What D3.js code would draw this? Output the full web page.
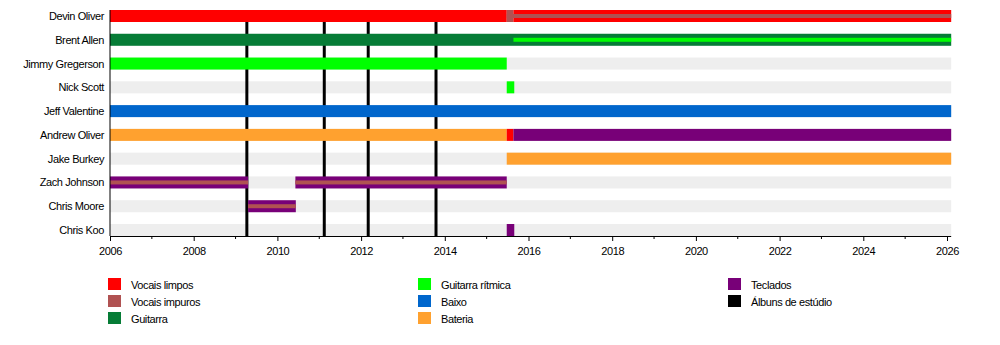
<!DOCTYPE html>
<html>
<head>
<meta charset="utf-8">
<script src="https://cdn.jsdelivr.net/npm/d3@7"></script>
<style>
  html, body { margin: 0; padding: 0; background: #fff; }
  svg text { font-family: "Liberation Sans", Arial, sans-serif; font-size: 11px; letter-spacing: -0.4px; fill: #000; }
</style>
</head>
<body>
<svg id="chart" width="1000" height="345"></svg>
<script>
// Band line-up timeline, years as decimal dates
const START = 2006;
const END = 2026.1;
const SPLIT = 2015.48;      // line-up change
const SPLIT2 = 2015.64;

const members = ["Devin Oliver", "Brent Allen", "Jimmy Gregerson", "Nick Scott", "Jeff Valentine",
                 "Andrew Oliver", "Jake Burkey", "Zach Johnson", "Chris Moore", "Chris Koo"];

const roles = ["Vocais limpos", "Vocais impuros", "Guitarra", "Guitarra rítmica", "Baixo", "Bateria", "Teclados"];
const roleColors = ["#ff0000", "#b05252", "#067c36", "#00ff00", "#0066cc", "#ffa12f", "#780078"];

// full-height bars: [member, role, from, to]
const bars = [
  ["Devin Oliver", "Vocais limpos", START, SPLIT],
  ["Devin Oliver", "Vocais impuros", SPLIT, SPLIT2],
  ["Devin Oliver", "Vocais limpos", SPLIT2, END],
  ["Brent Allen", "Guitarra", START, END],
  ["Jimmy Gregerson", "Guitarra rítmica", START, SPLIT],
  ["Nick Scott", "Guitarra rítmica", SPLIT, 2015.66],
  ["Jeff Valentine", "Baixo", START, END],
  ["Andrew Oliver", "Bateria", START, SPLIT],
  ["Andrew Oliver", "Vocais limpos", SPLIT, SPLIT2],
  ["Andrew Oliver", "Teclados", SPLIT2, END],
  ["Jake Burkey", "Bateria", SPLIT, END],
  ["Zach Johnson", "Teclados", START, 2009.30],
  ["Zach Johnson", "Teclados", 2010.43, SPLIT],
  ["Chris Moore", "Teclados", 2009.30, 2010.44],
  ["Chris Koo", "Teclados", SPLIT, 2015.66]
];

// thin secondary-role stripes drawn inside the bars: [member, role, from, to]
const stripes = [
  ["Devin Oliver", "Vocais impuros", SPLIT, END],
  ["Brent Allen", "Guitarra rítmica", SPLIT2, END],
  ["Zach Johnson", "Vocais impuros", START, 2009.30],
  ["Zach Johnson", "Vocais impuros", 2010.43, SPLIT],
  ["Chris Moore", "Vocais impuros", 2009.30, 2010.44]
];

const albums = [2009.27, 2011.12, 2012.17, 2013.79];
const albumLabel = "Álbuns de estúdio";

const majorTicks = d3.range(2006, 2027, 2);
const minorTicks = d3.range(2007, 2026, 2);

// legend columns
const legendColumns = [
  ["Vocais limpos", "Vocais impuros", "Guitarra"],
  ["Guitarra rítmica", "Baixo", "Bateria"],
  ["Teclados", albumLabel]
];

const svg = d3.select("#chart");
const color = d3.scaleOrdinal().domain(roles).range(roleColors);
const x = d3.scaleLinear().domain([2006, 2026]).range([110, 947]);
const y = d3.scalePoint().domain(members).range([16, 230]);
const barH = 12, stripeH = 4;
const axisY = 236;

// grey background rows
svg.append("g").selectAll("rect").data(members).join("rect")
  .attr("x", x(START)).attr("width", x(END) - x(START))
  .attr("y", d => y(d) - barH / 2).attr("height", barH)
  .attr("fill", "#eeeeee");

// studio album markers
svg.append("g").selectAll("line").data(albums).join("line")
  .attr("x1", d => x(d)).attr("x2", d => x(d))
  .attr("y1", 10).attr("y2", axisY)
  .attr("stroke", "#000").attr("stroke-width", 3);

// role bars
svg.append("g").selectAll("rect").data(bars).join("rect")
  .attr("x", d => x(d[2])).attr("width", d => x(d[3]) - x(d[2]))
  .attr("y", d => y(d[0]) - barH / 2).attr("height", barH)
  .attr("fill", d => color(d[1]));

svg.append("g").selectAll("rect").data(stripes).join("rect")
  .attr("x", d => x(d[2])).attr("width", d => x(d[3]) - x(d[2]))
  .attr("y", d => y(d[0]) - stripeH / 2).attr("height", stripeH)
  .attr("fill", d => color(d[1]));

// member names
svg.append("g").selectAll("text").data(members).join("text")
  .attr("x", 104).attr("y", d => y(d))
  .attr("text-anchor", "end").attr("dominant-baseline", "central")
  .text(d => d);

// left edge
svg.append("line").attr("x1", x(START)).attr("x2", x(START))
  .attr("y1", 10).attr("y2", axisY).attr("stroke", "#000").attr("stroke-width", 1);

// time axis
const axis = svg.append("g").attr("transform", `translate(0,${axisY})`)
  .call(d3.axisBottom(x).tickValues(majorTicks).tickFormat(d3.format("d")).tickSizeInner(5).tickSizeOuter(0));
axis.select(".domain").attr("d", `M${x(START)},0.5H${x(END)}`).attr("stroke", "#000");
axis.selectAll(".tick line").attr("stroke", "#000");
axis.selectAll(".tick text").attr("dy", "0.9em").attr("y", 9)
  .style("font-family", "'Liberation Sans', Arial, sans-serif").style("font-size", "11px");
axis.selectAll(".minor").data(minorTicks).join("line").attr("class", "minor")
  .attr("x1", d => x(d)).attr("x2", d => x(d)).attr("y1", 0).attr("y2", 3)
  .attr("stroke", "#000");

// legend
const legendX = [108, 418, 728];
const legendY = d3.scalePoint().domain([0, 1, 2]).range([278, 312]);
legendColumns.forEach((col, ci) => {
  const g = svg.append("g");
  col.forEach((name, ri) => {
    const fill = name === albumLabel ? "#000" : color(name);
    g.append("rect").attr("x", legendX[ci]).attr("y", legendY(ri))
      .attr("width", 13).attr("height", 12).attr("fill", fill);
    g.append("text").attr("x", legendX[ci] + 23).attr("y", legendY(ri) + 7)
      .attr("dominant-baseline", "central").text(name);
  });
});
</script>
</body>
</html>
